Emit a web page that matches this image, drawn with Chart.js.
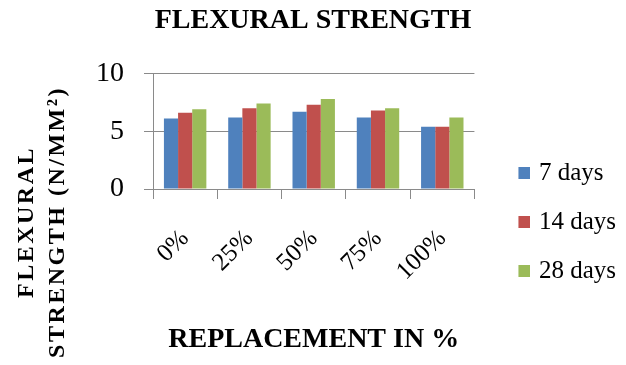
<!DOCTYPE html>
<html>
<head>
<meta charset="utf-8">
<script src="https://cdn.jsdelivr.net/npm/chart.js@4"></script>
<style>
  html, body { margin: 0; padding: 0; background: #fff; }
  #c { display: block; }
</style>
</head>
<body>
<canvas id="c" width="626" height="365"></canvas>
<script>
const categories = ['0%', '25%', '50%', '75%', '100%'];
const seriesNames = ['7 days', '14 days', '28 days'];
const days7 = [6.1, 6.2, 6.7, 6.2, 5.4];
const days14 = [6.6, 7.0, 7.3, 6.8, 5.4];
const days28 = [6.9, 7.4, 7.8, 7.0, 6.2];
const yTicks = [0, 5, 10];
const chartTitle = 'FLEXURAL STRENGTH';
const xTitle = 'REPLACEMENT IN %';
const yTitleLines = ['FLEXURAL', 'STRENGTH (N/MM²)'];

const colors = ['#4F81BD', '#C0504D', '#9BBB59'];
const SERIF = '"Liberation Serif", "Times New Roman", serif';
const GRID = '#8a8a8a';

// legend marker: a 12px square at the right end of a wider transparent strip
const MARK_BOX = 28, MARK_CANVAS = 36, MARK_SQ = 12;
function legendMarker(color) {
  const cv = document.createElement('canvas');
  cv.width = MARK_CANVAS; cv.height = MARK_SQ;
  const g = cv.getContext('2d');
  g.fillStyle = color;
  g.fillRect(MARK_CANVAS - MARK_SQ, 0, MARK_SQ, MARK_SQ);
  return cv;
}
const markers = colors.map(legendMarker);

const yTitlePlugin = {
  id: 'yTitle',
  afterDraw(chart) {
    const ctx = chart.ctx;
    ctx.save();
    ctx.font = 'bold 24px ' + SERIF;
    ctx.fillStyle = '#000';
    try { ctx.letterSpacing = '2.5px'; } catch (e) {}
    ctx.textAlign = 'center';
    ctx.textBaseline = 'middle';
    ctx.translate(27, 222);
    ctx.rotate(-Math.PI / 2);
    ctx.fillText(yTitleLines[0], 0, 0);
    ctx.fillText(yTitleLines[1], 0, 31);
    ctx.restore();
  }
};

new Chart(document.getElementById('c'), {
  type: 'bar',
  data: {
    labels: categories,
    datasets: [
      { label: seriesNames[0], data: days7, backgroundColor: colors[0] },
      { label: seriesNames[1], data: days14, backgroundColor: colors[1] },
      { label: seriesNames[2], data: days28, backgroundColor: colors[2] }
    ]
  },
  options: {
    responsive: false,
    animation: false,
    datasets: { bar: { barPercentage: 1, categoryPercentage: 0.66 } },
    layout: { padding: { left: 0, right: 0, top: 0, bottom: 8 } },
    plugins: {
      tooltip: { enabled: false },
      title: {
        display: true,
        text: chartTitle,
        color: '#000',
        font: { family: SERIF, size: 28, weight: 'bold' },
        padding: { top: 4, bottom: 36 }
      },
      legend: {
        position: 'right',
        title: { display: true, text: ' ', font: { size: 10 }, padding: { top: 0, bottom: 75 } },
        labels: {
          color: '#000',
          font: { family: SERIF, size: 25 },
          usePointStyle: true,
          pointStyleWidth: MARK_BOX,
          boxHeight: 12,
          padding: 24,
          generateLabels(chart) {
            const items = Chart.defaults.plugins.legend.labels.generateLabels(chart);
            items.forEach((it, i) => { it.pointStyle = markers[i]; });
            return items;
          }
        }
      }
    },
    scales: {
      x: {
        grid: { display: true, drawOnChartArea: false, offset: true, tickLength: 10, color: GRID },
        border: { display: true, color: GRID },
        ticks: {
          color: '#000',
          font: { family: SERIF, size: 25 },
          minRotation: 45,
          maxRotation: 45,
          padding: 25
        },
        title: {
          display: true,
          text: xTitle,
          color: '#000',
          font: { family: SERIF, size: 28, weight: 'bold' },
          padding: { top: 0, bottom: 0 }
        },
        afterFit(s) { s.height = 168; }
      },
      y: {
        min: 0,
        max: 10,
        afterBuildTicks(s) { s.ticks = yTicks.map(v => ({ value: v })); },
        grid: { color: GRID, tickLength: 9 },
        border: { display: true, color: GRID },
        ticks: {
          color: '#000',
          font: { family: SERIF, size: 28 },
          padding: 20
        },
        afterFit(s) { s.width = 153; }
      }
    }
  },
  plugins: [yTitlePlugin]
});
</script>
</body>
</html>
